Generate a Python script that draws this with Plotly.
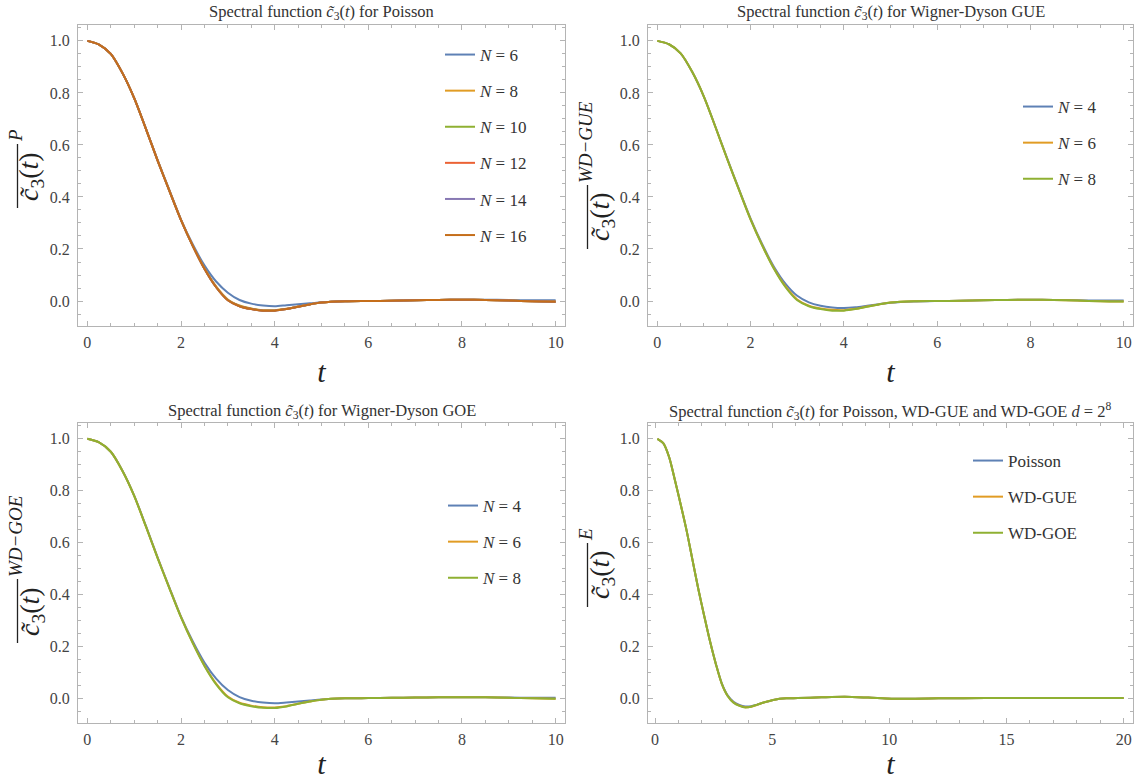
import plotly.graph_objects as go

# ---- data -------------------------------------------------------------
# time grid shared by the three N-scan panels
t_grid = [0, 0.25, 0.5, 0.75, 1.0, 1.25, 1.5, 1.75, 2.0, 2.25, 2.5, 2.75, 3.0,
          3.25, 3.5, 3.75, 4.0, 4.25, 4.5, 4.75, 5.0, 5.5, 6.0, 6.5, 7.0, 7.5,
          8.0, 8.5, 9.0, 9.5, 10.0]

# Poisson
pois_N6 = [1.000, 0.986, 0.950, 0.876, 0.780, 0.663, 0.542, 0.427, 0.313, 0.218, 0.137,
           0.075, 0.032, 0.004, -0.010, -0.017, -0.020, -0.016, -0.012, -0.009, -0.005,
           -0.001, 0.000, 0.001, 0.003, 0.004, 0.005, 0.005, 0.004, 0.003, 0.003]
pois_N8 = [1.000, 0.986, 0.950, 0.876, 0.780, 0.662, 0.541, 0.425, 0.312, 0.213, 0.126,
           0.056, 0.006, -0.017, -0.029, -0.035, -0.035, -0.030, -0.021, -0.013, -0.006,
           -0.001, 0.000, 0.001, 0.003, 0.004, 0.005, 0.004, 0.002, -0.001, -0.002]
pois_N10 = [1.000, 0.986, 0.950, 0.876, 0.780, 0.662, 0.540, 0.424, 0.311, 0.212, 0.125,
            0.054, 0.004, -0.019, -0.030, -0.036, -0.036, -0.031, -0.022, -0.013, -0.006,
            -0.001, 0.000, 0.001, 0.003, 0.004, 0.005, 0.004, 0.002, -0.001, -0.003]
pois_N12 = [1.000, 0.986, 0.950, 0.876, 0.780, 0.662, 0.540, 0.424, 0.311, 0.212, 0.124,
            0.053, 0.003, -0.020, -0.031, -0.037, -0.037, -0.031, -0.022, -0.013, -0.006,
            -0.001, 0.000, 0.001, 0.003, 0.004, 0.005, 0.004, 0.002, -0.001, -0.003]
pois_N14 = [1.000, 0.986, 0.950, 0.876, 0.780, 0.662, 0.540, 0.424, 0.311, 0.212, 0.124,
            0.053, 0.003, -0.020, -0.031, -0.037, -0.037, -0.031, -0.022, -0.013, -0.006,
            -0.001, 0.000, 0.001, 0.003, 0.004, 0.005, 0.004, 0.002, -0.001, -0.003]
pois_N16 = [1.000, 0.986, 0.950, 0.876, 0.780, 0.662, 0.540, 0.424, 0.311, 0.212, 0.124,
            0.053, 0.003, -0.020, -0.031, -0.037, -0.037, -0.031, -0.022, -0.013, -0.006,
            -0.001, 0.000, 0.001, 0.003, 0.004, 0.005, 0.004, 0.002, -0.001, -0.003]

# Wigner-Dyson GUE
gue_N4 = [1.000, 0.987, 0.952, 0.880, 0.785, 0.668, 0.547, 0.430, 0.317, 0.218, 0.132,
          0.066, 0.020, -0.005, -0.018, -0.025, -0.027, -0.024, -0.018, -0.012, -0.007,
          -0.002, 0.000, 0.001, 0.003, 0.004, 0.005, 0.004, 0.003, 0.002, 0.002]
gue_N6 = [1.000, 0.987, 0.952, 0.880, 0.785, 0.667, 0.545, 0.428, 0.314, 0.214, 0.126,
          0.056, 0.006, -0.018, -0.029, -0.034, -0.035, -0.030, -0.021, -0.013, -0.006,
          -0.001, 0.000, 0.001, 0.003, 0.004, 0.005, 0.004, 0.002, -0.001, -0.002]
gue_N8 = [1.000, 0.987, 0.952, 0.880, 0.785, 0.667, 0.545, 0.428, 0.313, 0.213, 0.124,
          0.053, 0.003, -0.020, -0.031, -0.037, -0.037, -0.031, -0.022, -0.013, -0.006,
          -0.001, 0.000, 0.001, 0.003, 0.004, 0.005, 0.004, 0.002, -0.001, -0.002]

# Wigner-Dyson GOE
goe_N4 = [1.000, 0.986, 0.950, 0.877, 0.781, 0.664, 0.543, 0.427, 0.314, 0.219, 0.137,
          0.075, 0.031, 0.004, -0.010, -0.017, -0.020, -0.017, -0.013, -0.009, -0.005,
          -0.001, 0.000, 0.001, 0.002, 0.003, 0.003, 0.003, 0.002, 0.001, 0.001]
goe_N6 = [1.000, 0.986, 0.950, 0.876, 0.780, 0.662, 0.541, 0.425, 0.312, 0.213, 0.126,
          0.056, 0.006, -0.018, -0.029, -0.035, -0.036, -0.031, -0.022, -0.013, -0.006,
          -0.001, 0.000, 0.001, 0.002, 0.003, 0.003, 0.003, 0.001, -0.001, -0.002]
goe_N8 = [1.000, 0.986, 0.950, 0.876, 0.780, 0.662, 0.540, 0.424, 0.311, 0.212, 0.124,
          0.053, 0.003, -0.020, -0.031, -0.037, -0.038, -0.032, -0.022, -0.013, -0.006,
          -0.001, 0.000, 0.001, 0.002, 0.003, 0.003, 0.003, 0.001, -0.001, -0.002]

# ensemble comparison, d = 2^8
t_ens = [0.1, 0.35, 0.6, 0.85, 1.1, 1.35, 1.6, 1.85, 2.1, 2.35, 2.6, 2.85, 3.1, 3.35,
         3.6, 3.85, 4.1, 4.35, 4.6, 5.1, 5.6, 6.1, 7.1, 8.1, 9.1, 10.1, 11.1, 12.1,
         14.1, 16.1, 18.1, 20.0]
ens_poisson = [1.000, 0.983, 0.930, 0.840, 0.745, 0.645, 0.532, 0.420, 0.317, 0.218, 0.131,
               0.057, 0.011, -0.014, -0.026, -0.032, -0.031, -0.025, -0.018, -0.006, -0.001,
               0.000, 0.003, 0.005, 0.002, -0.002, -0.002, -0.001, 0.000, 0.000, 0.000, 0.000]
ens_gue = [1.000, 0.983, 0.930, 0.840, 0.745, 0.645, 0.532, 0.420, 0.317, 0.218, 0.130,
           0.055, 0.008, -0.017, -0.029, -0.035, -0.033, -0.026, -0.018, -0.006, -0.001,
           0.000, 0.003, 0.005, 0.002, -0.002, -0.002, -0.001, 0.000, 0.000, 0.000, 0.000]
ens_goe = [1.000, 0.983, 0.930, 0.840, 0.745, 0.645, 0.532, 0.420, 0.317, 0.218, 0.130,
           0.055, 0.008, -0.018, -0.030, -0.036, -0.033, -0.026, -0.018, -0.006, -0.001,
           0.000, 0.003, 0.005, 0.002, -0.002, -0.002, -0.001, 0.000, 0.000, 0.000, 0.000]

# ---- style ----------------------------------------------------------
PALETTE = ["#5E81B5", "#E19C24", "#8FB032", "#EB6235", "#8778B3", "#C56E1A"]
SERIF = "Liberation Serif"
FRAME = "#b4b4b4"
TICKTXT = "#444444"
INK = "#222222"

C3 = "<i>c\u0303</i><sub>3</sub>(<i>t</i>)"

panels = [
    dict(x=t_grid, legend="legend",
         series=[("<i>N</i> = 6", pois_N6), ("<i>N</i> = 8", pois_N8),
                 ("<i>N</i> = 10", pois_N10), ("<i>N</i> = 12", pois_N12),
                 ("<i>N</i> = 14", pois_N14), ("<i>N</i> = 16", pois_N16)]),
    dict(x=t_grid, legend="legend2",
         series=[("<i>N</i> = 4", gue_N4), ("<i>N</i> = 6", gue_N6),
                 ("<i>N</i> = 8", gue_N8)]),
    dict(x=t_grid, legend="legend3",
         series=[("<i>N</i> = 4", goe_N4), ("<i>N</i> = 6", goe_N6),
                 ("<i>N</i> = 8", goe_N8)]),
    dict(x=t_ens, legend="legend4",
         series=[("Poisson", ens_poisson), ("WD-GUE", ens_gue),
                 ("WD-GOE", ens_goe)]),
]

fig = go.Figure()
for k, p in enumerate(panels):
    ax = "" if k == 0 else str(k + 1)
    for j, (name, vals) in enumerate(p["series"]):
        fig.add_trace(go.Scatter(
            x=p["x"], y=vals, name=name, mode="lines",
            line=dict(color=PALETTE[j], width=2, shape="spline", smoothing=0.8),
            xaxis="x" + ax, yaxis="y" + ax, legend=p["legend"],
            legendgroup=f"g{k}_{j}", showlegend=True,
        ))

W, H = 1136, 780
xdom_left = [78 / W, 565 / W]
xdom_right = [648 / W, 1133 / W]
ydom_top = [1 - 326 / H, 1 - 25 / H]
ydom_bot = [1 - 723 / H, 1 - 423 / H]


def xaxis(dom, rng, dtick, minor, anchor):
    return dict(domain=dom, range=rng, anchor=anchor, dtick=dtick, tick0=0,
                showgrid=False, zeroline=False, showline=True, linecolor=FRAME,
                linewidth=1, mirror="ticks", ticks="inside", ticklen=5,
                tickcolor=FRAME, tickwidth=1,
                minor=dict(dtick=minor, tick0=0, ticks="inside", ticklen=3,
                           tickcolor=FRAME, showgrid=False),
                tickfont=dict(family=SERIF, size=16, color=TICKTXT),
                ticklabelstandoff=2,
                title=dict(text="<i>t</i>", font=dict(family=SERIF, size=30, color=INK),
                           standoff=10))


def yaxis(dom, anchor):
    return dict(domain=dom, range=[-0.096, 1.061], anchor=anchor, dtick=0.2, tick0=0,
                tickformat=".1f", showgrid=False, zeroline=False, showline=True,
                linecolor=FRAME, linewidth=1, mirror="ticks", ticks="inside",
                ticklen=5, tickcolor=FRAME, tickwidth=1,
                minor=dict(dtick=0.05, tick0=0, ticks="inside", ticklen=3,
                           tickcolor=FRAME, showgrid=False),
                tickfont=dict(family=SERIF, size=16, color=TICKTXT),
                ticklabelstandoff=4)


def legend_box(x, y, gap):
    return dict(x=x, y=y, xanchor="left", yanchor="top", bgcolor="rgba(0,0,0,0)",
                font=dict(family=SERIF, size=17, color="#333"),
                tracegroupgap=gap, itemwidth=30)


fig.update_layout(
    width=W, height=H, margin=dict(l=0, r=0, t=0, b=0),
    paper_bgcolor="white", plot_bgcolor="white",
    xaxis=xaxis(xdom_left, [-0.2, 10.2], 2, 0.5, "y"),
    yaxis=yaxis(ydom_top, "x"),
    xaxis2=xaxis(xdom_right, [-0.2, 10.2], 2, 0.5, "y2"),
    yaxis2=yaxis(ydom_top, "x2"),
    xaxis3=xaxis(xdom_left, [-0.2, 10.2], 2, 0.5, "y3"),
    yaxis3=yaxis(ydom_bot, "x3"),
    xaxis4=xaxis(xdom_right, [-0.3, 20.4], 5, 1, "y4"),
    yaxis4=yaxis(ydom_bot, "x4"),
    legend=legend_box(440 / W, 1 - 37 / H, 11),
    legend2=legend_box(1018 / W, 1 - 89 / H, 11),
    legend3=legend_box(443 / W, 1 - 488 / H, 11),
    legend4=legend_box(968 / W, 1 - 443 / H, 11),
    showlegend=True,
)

# panel titles
titles = [
    ("Spectral function " + C3 + " for Poisson", 321.5, 12),
    ("Spectral function " + C3 + " for Wigner-Dyson GUE", 890.5, 12),
    ("Spectral function " + C3 + " for Wigner-Dyson GOE", 321.5, 411),
    ("Spectral function " + C3 + " for Poisson, WD-GUE and WD-GOE <i>d</i> = 2<sup>8</sup>",
     890.5, 411),
]
for text, cx, cy in titles:
    fig.add_annotation(text=text, x=cx / W, y=1 - cy / H, xref="paper", yref="paper",
                       xanchor="center", yanchor="middle", showarrow=False,
                       font=dict(family=SERIF, size=16.5, color="#333"))

# vertical axis labels: overlined c3(t) with the ensemble as a superscript
# (base centre x, base centre y, superscript, superscript centre y) in pixels
ylabels = [
    (31, 176, "P", 136),
    (601, 217, "WD\u2212GUE", 142),
    (31, 611, "WD\u2212GOE", 536),
    (601, 575, "E", 535),
]
HALF = 32
for bx, by, sup, sy in ylabels:
    fig.add_annotation(text=C3, x=bx / W, y=1 - by / H, xref="paper", yref="paper",
                       xanchor="center", yanchor="middle", textangle=-90,
                       showarrow=False, font=dict(family=SERIF, size=28, color=INK))
    fig.add_annotation(text="<i>" + sup + "</i>", x=(bx - 16) / W, y=1 - sy / H,
                       xref="paper", yref="paper", xanchor="center", yanchor="middle",
                       textangle=-90, showarrow=False,
                       font=dict(family=SERIF, size=19, color=INK))
    fig.add_shape(type="line", xref="paper", yref="paper",
                  x0=(bx - 13.5) / W, x1=(bx - 13.5) / W,
                  y0=1 - (by - HALF) / H, y1=1 - (by + HALF) / H,
                  line=dict(color=INK, width=1.3))

fig.write_html("out.html")
